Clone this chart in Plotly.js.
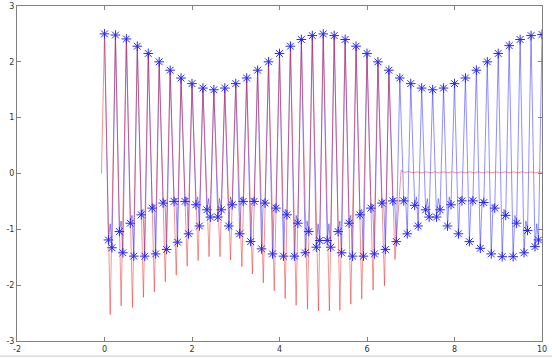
<!DOCTYPE html>
<html>
<head>
<meta charset="utf-8">
<script src="https://cdn.plot.ly/plotly-3.0.1.min.js"></script>
<style>html,body{margin:0;padding:0;background:#fff;}#plot{width:552px;height:358px;}</style>
</head>
<body>
<div id="plot"></div>
<script>
// Blue signal: peaks and the two troughs of each cycle
const peakX = [0,0.25,0.5,0.75,1,1.25,1.5,1.75,2,2.25,2.5,2.75,3,3.25,3.5,3.75,4,4.25,4.5,4.75,5,5.25,5.5,5.75,6,6.25,6.5,6.75,7,7.25,7.5,7.75,8,8.25,8.5,8.75,9,9.25,9.5,9.75,10];
const peakY = [2.50,2.48,2.41,2.28,2.15,2.00,1.85,1.71,1.61,1.53,1.50,1.53,1.61,1.71,1.85,2.00,2.15,2.28,2.40,2.47,2.50,2.47,2.40,2.28,2.15,2.00,1.85,1.71,1.61,1.53,1.50,1.53,1.61,1.71,1.85,2.00,2.15,2.29,2.40,2.47,2.49];
const troughAX = [0.09,0.34,0.59,0.84,1.09,1.34,1.59,1.84,2.09,2.34,2.59,2.84,3.09,3.34,3.59,3.84,4.09,4.34,4.59,4.84,5.09,5.34,5.59,5.84,6.09,6.34,6.59,6.84,7.09,7.34,7.59,7.84,8.09,8.34,8.59,8.84,9.09,9.34,9.59,9.84];
const troughAY = [-1.19,-1.04,-0.89,-0.74,-0.62,-0.53,-0.50,-0.50,-0.56,-0.65,-0.78,-0.94,-1.08,-1.22,-1.35,-1.44,-1.48,-1.48,-1.42,-1.32,-1.20,-1.04,-0.89,-0.74,-0.62,-0.53,-0.49,-0.49,-0.57,-0.65,-0.78,-0.94,-1.08,-1.22,-1.34,-1.44,-1.49,-1.49,-1.42,-1.31];
const humpX = [0.13,0.38,0.63,0.88,1.13,1.38,1.63,1.88,2.13,2.38,2.63,2.88,3.13,3.38,3.63,3.88,4.13,4.38,4.63,4.88,5.13,5.38,5.63,5.88,6.13,6.38,6.63,6.88,7.13,7.38,7.63,7.88,8.13,8.38,8.63,8.88,9.13,9.38,9.63,9.88];
const humpY = [-0.90,-0.85,-0.75,-0.64,-0.55,-0.47,-0.44,-0.42,-0.42,-0.45,-0.45,-0.42,-0.42,-0.44,-0.47,-0.55,-0.64,-0.75,-0.85,-0.90,-0.90,-0.85,-0.75,-0.64,-0.55,-0.47,-0.44,-0.42,-0.42,-0.45,-0.45,-0.42,-0.42,-0.44,-0.47,-0.55,-0.64,-0.75,-0.85,-0.90];
const troughBX = [0.17,0.42,0.67,0.92,1.17,1.42,1.67,1.92,2.17,2.42,2.67,2.92,3.17,3.42,3.67,3.92,4.17,4.42,4.67,4.92,5.17,5.42,5.67,5.92,6.17,6.42,6.67,6.92,7.17,7.42,7.67,7.92,8.17,8.42,8.67,8.92,9.17,9.42,9.67,9.92];
const troughBY = [-1.33,-1.42,-1.48,-1.48,-1.44,-1.36,-1.23,-1.08,-0.94,-0.78,-0.65,-0.56,-0.50,-0.50,-0.53,-0.62,-0.74,-0.89,-1.04,-1.20,-1.32,-1.42,-1.48,-1.48,-1.44,-1.36,-1.22,-1.08,-0.94,-0.78,-0.65,-0.56,-0.49,-0.49,-0.52,-0.62,-0.75,-0.89,-1.02,-1.19];

// Red signal
const redX = [-0.07,0,0.13,0.25,0.38,0.5,0.64,0.75,0.89,1,1.14,1.25,1.39,1.5,1.64,1.75,1.89,2,2.14,2.25,2.39,2.5,2.64,2.75,2.88,3,3.14,3.25,3.38,3.5,3.63,3.75,3.88,4,4.13,4.25,4.38,4.5,4.64,4.75,4.89,5,5.14,5.25,5.38,5.5,5.63,5.75,5.88,6,6.14,6.25,6.4,6.5,6.64,6.78,6.85,6.95,7.05,7.15,7.25,7.35,7.45,7.55,7.65,7.75,7.85,7.95,8.05,8.15,8.25,8.35,8.45,8.55,8.65,8.75,8.85,8.95,9.05,9.15,9.25,9.35,9.45,9.55,9.65,9.75,9.85,9.95,10];
const redY = [0.00,2.50,-2.53,2.48,-2.37,2.41,-2.40,2.28,-2.22,2.15,-2.12,2.00,-1.94,1.85,-1.82,1.71,-1.66,1.61,-1.56,1.53,-1.49,1.50,-1.49,1.53,-1.55,1.61,-1.67,1.71,-1.80,1.85,-1.96,2.00,-2.10,2.15,-2.24,2.28,-2.36,2.40,-2.43,2.47,-2.46,2.50,-2.46,2.47,-2.45,2.40,-2.34,2.28,-2.25,2.15,-2.09,2.00,-2.01,1.85,-1.54,0.06,0.02,0.035,0.012,0.03,0.012,0.03,0.012,0.03,0.012,0.03,0.012,0.03,0.012,0.03,0.012,0.03,0.012,0.03,0.012,0.03,0.012,0.03,0.012,0.03,0.012,0.03,0.012,0.03,0.012,0.03,0.012,0.03,0.012];

const xTicks = [-2,0,2,4,6,8,10];
const yTicks = [-3,-2,-1,0,1,2,3];

// Build blue polyline: peak, troughA, hump, troughB, next peak...
const blueX = [], blueY = [];
for (let k = 0; k < peakX.length; k++) {
  blueX.push(peakX[k]); blueY.push(peakY[k]);
  if (k < troughAX.length) {
    blueX.push(troughAX[k], humpX[k], troughBX[k]);
    blueY.push(troughAY[k], humpY[k], troughBY[k]);
  }
}
const markX = peakX.concat(troughAX, troughBX);
const markY = peakY.concat(troughAY, troughBY);

const traces = [
  {x: blueX, y: blueY, mode: 'lines', line: {color: 'rgba(40,40,255,0.65)', width: 0.8}, hoverinfo: 'skip'},
  {x: redX, y: redY, mode: 'lines', line: {color: 'rgba(230,30,30,0.6)', width: 0.8}, hoverinfo: 'skip'},
  {x: markX, y: markY, mode: 'markers', marker: {symbol: 'asterisk-open', size: 8, color: 'rgb(40,40,240)', line: {color: 'rgb(40,40,240)', width: 1}}, hoverinfo: 'skip'}
];

const axisCommon = {
  showline: true, linecolor: '#808080', linewidth: 1, mirror: 'allticks',
  ticks: 'inside', ticklen: 4, tickcolor: '#808080', tickwidth: 1,
  showgrid: false, zeroline: false, tickmode: 'array',
  tickfont: {family: 'DejaVu Sans, sans-serif', size: 8, color: '#333'}
};

const layout = {
  width: 552, height: 358,
  margin: {l: 17, r: 10, t: 6, b: 17, pad: 0},
  paper_bgcolor: '#fff', plot_bgcolor: '#fff',
  showlegend: false,
  xaxis: Object.assign({}, axisCommon, {range: [-2, 10], tickvals: xTicks, ticktext: xTicks.map(String), automargin: false}),
  yaxis: Object.assign({}, axisCommon, {range: [-3, 3], tickvals: yTicks, ticktext: yTicks.map(String), automargin: false}),
  shapes: [{type: 'line', xref: 'paper', yref: 'paper', x0: -0.04, x1: 1.02, y0: -0.045, y1: -0.045, line: {color: '#c8c8c8', width: 1}}]
};

Plotly.newPlot('plot', traces, layout, {staticPlot: true, displayModeBar: false});
</script>
</body>
</html>
